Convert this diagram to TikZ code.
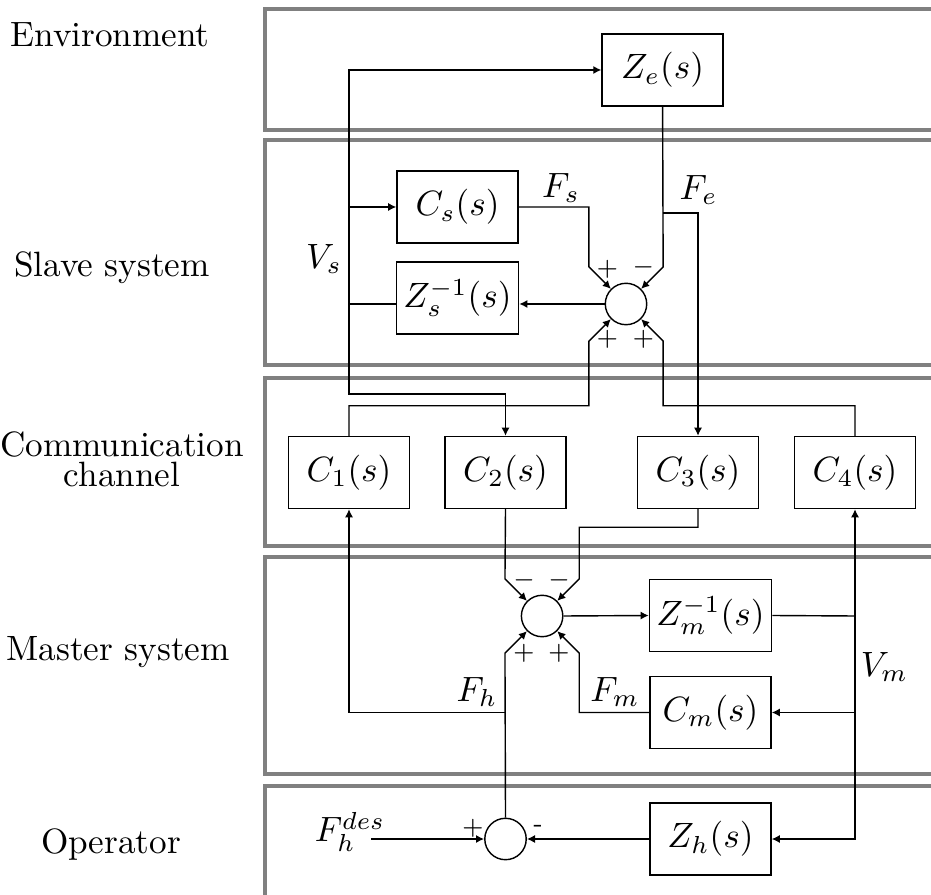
\documentclass[tikz,border=0pt]{standalone}
\usepackage{amsmath}
\usetikzlibrary{arrows.meta, calc}

\begin{document}
\begin{tikzpicture}[x=0.01cm, y=-0.01cm,
  block/.style={rectangle, draw, minimum width=1.21cm, minimum height=0.72cm, inner sep=2pt},
  sumnode/.style={circle, draw, minimum size=0.414cm, inner sep=0pt},
  panel/.style={draw=gray, line width=1.15pt},
  arr/.style={-{Latex[length=2.3pt, width=2.3pt]}},
  sgn/.style={font=\scriptsize, inner sep=0pt},
  lbl/.style={align=center},
]
  \useasboundingbox (0,0) rectangle (931,895);
  % layer frames
  \draw[panel] (265,9) rectangle (960,130);
  \draw[panel] (265,140) rectangle (960,365);
  \draw[panel] (265,378) rectangle (960,546);
  \draw[panel] (265,557) rectangle (960,774);
  \draw[panel] (265,786) rectangle (960,930);
  \node[lbl] (lenv) at (110,35) {Environment};
  \node[lbl] (lslave) at (112,268) {Slave system};
  \node[lbl] (lcomm) at (122,459) {Communication\\[-3.5pt]channel};
  \node[lbl] (lmaster) at (118,652) {Master system};
  \node[lbl] (loper) at (111,845) {Operator};

  % blocks
  \node[block] (ze) at (662.6,70) {$Z_e(s)$};
  \node[block] (cs) at (457.5,207) {$C_s(s)$};
  \node[block] (zsinv) at (457.5,298) {$Z_s^{-1}(s)$};
  \node[sumnode] (sums) at (626,304) {};
  \node[block] (c1) at (349,472.5) {$C_1(s)$};
  \node[block] (c2) at (505.5,472.5) {$C_2(s)$};
  \node[block] (c3) at (698,472.5) {$C_3(s)$};
  \node[block] (c4) at (855,472.5) {$C_4(s)$};
  \node[sumnode] (summ) at (542.1,616) {};
  \node[block] (zminv) at (710.5,615.5) {$Z_m^{-1}(s)$};
  \node[block] (cm) at (710.5,712.5) {$C_m(s)$};
  \node[sumnode] (sumh) at (505.5,839) {};
  \node[block] (zh) at (710.5,839) {$Z_h(s)$};

  % junctions
  \coordinate (vs) at (349,304);
  \coordinate (fe) at (662.6,213);
  \coordinate (fh) at (505.5,712.5);
  \coordinate (vm) at (855,616);
  \coordinate (fin) at (371,839);

  % slave side
  \draw[arr] (zsinv.west |- vs) -- (vs) |- (ze.west);
  \draw[arr] (vs |- cs) -- (cs.west);
  \draw[arr] (vs) -- ++(0,90) -| (c2.north);
  \draw[arr] (sums.west) -- (sums.west -| zsinv.east);
  \draw[arr] (cs.east) -| ($(sums.135)+(-22,-22)$) -- (sums.135);
  \draw[arr] (ze.south) -- ($(sums.45)+(22,-22)$) -- (sums.45);
  \draw[arr] (fe) -| (c3.north);
  \draw[arr] (c1.north) -- ++(0,-30) -| ($(sums.225)+(-22,22)$) -- (sums.225);
  \draw[arr] (c4.north) -- ++(0,-30) -| ($(sums.315)+(22,22)$) -- (sums.315);

  % master side
  \draw[arr] (c2.south) -- ($(summ.135)+(-22,-22)$) -- (summ.135);
  \draw[arr] (c3.south) -- ++(0,18) -| ($(summ.45)+(22,-22)$) -- (summ.45);
  \draw[arr] (sumh.north) -- ($(summ.225)+(-22,22)$) -- (summ.225);
  \draw[arr] (cm.west) -| ($(summ.315)+(22,22)$) -- (summ.315);
  \draw[arr] (fh) -| (c1.south);
  \draw[arr] (summ.east) -- (zminv.west);
  \draw (zminv.east) -- (vm);
  \draw[arr] (vm) -- (c4.south);
  \draw[arr] (vm |- cm) -- (cm.east);
  \draw[arr] (vm) |- (zh.east);

  % operator
  \draw[arr] (fin) -- (sumh.west);
  \draw[arr] (zh.west) -- (sumh.east);

  % signs
  \node[sgn] (ps1) at (607.3,269) {$+$};
  \node[sgn] (ms1) at (643.3,267) {$-$};
  \node[sgn] (ps2) at (607.3,339.3) {$+$};
  \node[sgn] (ps3) at (643.3,339.3) {$+$};
  \node[sgn] (mm1) at (524,580) {$-$};
  \node[sgn] (mm2) at (559,580) {$-$};
  \node[sgn] (pm1) at (524,653) {$+$};
  \node[sgn] (pm2) at (559,653) {$+$};
  \node[sgn] (ph) at (473,828) {$+$};
  \node[sgn] (mh) at (538,828) {-};

  % signal labels
  \node (lfs) at (561,188) {$F_s$};
  \node (lfe) at (698.5,190) {$F_e$};
  \node (lvs) at (324,259) {$V_s$};
  \node (lfh) at (477,692) {$F_h$};
  \node (lfm) at (615,692) {$F_m$};
  \node (lvm) at (884.5,667) {$V_m$};
  \node[inner sep=1pt] (lfhd) at (350,832) {$F_h^{des}$};
\end{tikzpicture}
\end{document}
